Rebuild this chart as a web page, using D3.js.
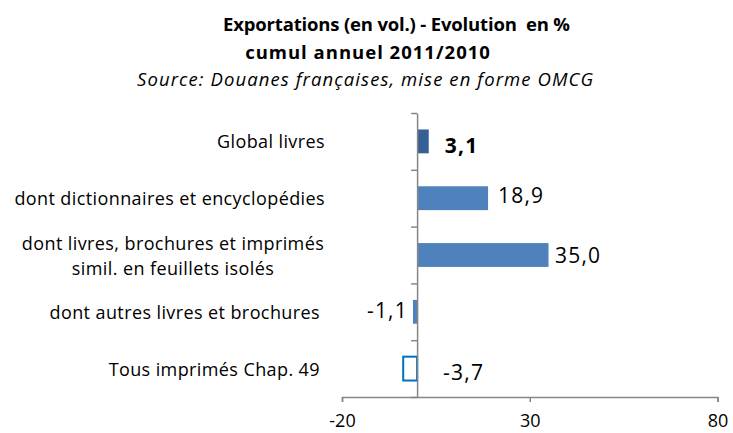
<!DOCTYPE html>
<html>
<head>
<meta charset="utf-8">
<script src="https://cdn.jsdelivr.net/npm/d3@7"></script>
<style>
  body { margin: 0; background: #fff; }
  svg { display: block; font-family: "Open Sans", Lato, sans-serif; }
  text { white-space: pre; }
</style>
</head>
<body>
<div id="chart"></div>
<script>
// categories, top to bottom (multi-line labels as arrays)
const categories = [
  ["Global livres"],
  ["dont dictionnaires et encyclopédies"],
  ["dont livres, brochures et imprimés", "simil. en feuillets isolés"],
  ["dont autres livres et brochures"],
  ["Tous imprimés Chap. 49"]
];
const values = [3.1, 18.9, 35.0, -1.1, -3.7];
const xTicks = [-20, 30, 80];
const titleLines = ["Exportations (en vol.) - Evolution  en %", "cumul annuel 2011/2010"];
const subtitle = "Source: Douanes françaises, mise en forme OMCG";

const width = 733, height = 433;
const plot = { left: 342, right: 717.5, top: 113, bottom: 397 };

const svg = d3.select('#chart').append('svg')
  .attr('width', width)
  .attr('height', height);

// title + source line
svg.append('text')
  .attr('x', 223).attr('y', 31)
  .attr('textLength', 347).attr('lengthAdjust', 'spacing')
  .style('font-weight', 'bold').style('font-size', '18.5px')
  .text(titleLines[0]);
svg.append('text')
  .attr('x', 368).attr('y', 59)
  .attr('text-anchor', 'middle')
  .style('letter-spacing', '1px')
  .style('font-weight', 'bold').style('font-size', '18.5px')
  .text(titleLines[1]);
svg.append('text')
  .attr('x', 137).attr('y', 86)
  .attr('textLength', 456).attr('lengthAdjust', 'spacing')
  .style('font-style', 'italic').style('font-size', '18.5px')
  .text(subtitle);

const idx = d3.range(categories.length);

const xScale = d3.scaleLinear()
  .domain([xTicks[0], xTicks[xTicks.length - 1]])
  .range([plot.left, plot.right]);

const yScale = d3.scaleBand()
  .domain(idx)
  .range([plot.top, plot.bottom])
  .paddingInner(0.58)
  .paddingOuter(0.29);

// boundary ticks on the category axis
const yEdge = d3.scaleLinear()
  .domain([0, categories.length])
  .range([plot.top, plot.bottom]);

const x0 = xScale(0);

// bars
svg.selectAll('rect.bar')
  .data(values)
  .enter()
  .append('rect')
  .attr('class', 'bar')
  .attr('x', d => Math.min(xScale(d), x0))
  .attr('y', (d, i) => yScale(i))
  .attr('width', d => Math.abs(xScale(d) - x0))
  .attr('height', yScale.bandwidth())
  .style('fill', (d, i) => i === 0 ? '#365f95' : (i === values.length - 1 ? '#ffffff' : '#4f81bd'))
  .style('stroke', (d, i) => i === values.length - 1 ? '#0070c0' : 'none')
  .style('stroke-width', 2);

// x axis
const xAxis = d3.axisBottom(xScale)
  .tickValues(xTicks)
  .tickSizeInner(5)
  .tickSizeOuter(5)
  .tickPadding(12)
  .tickFormat(d => String(d));

const gx = svg.append('g')
  .attr('class', 'xaxis')
  .attr('transform', `translate(0,${plot.bottom})`)
  .call(xAxis);
gx.selectAll('path, line').attr('stroke', '#868686').attr('stroke-width', 1.5);
gx.selectAll('text').style('font-size', '18px').style('fill', '#000')
  .style('font-family', '"Open Sans", sans-serif');

// y axis at zero
const yAxis = d3.axisLeft(yEdge)
  .tickValues(d3.range(categories.length + 1))
  .tickSizeInner(6)
  .tickSizeOuter(0)
  .tickFormat('');
const gy = svg.append('g')
  .attr('class', 'yaxis')
  .attr('transform', `translate(${x0},0)`)
  .call(yAxis);
gy.selectAll('path, line').attr('stroke', '#868686').attr('stroke-width', 1.5);

// category labels
const labels = svg.selectAll('text.cat')
  .data(categories)
  .enter()
  .append('text')
  .attr('class', 'cat')
  .style('font-size', '18px')
  .style('letter-spacing', '0.4px')
  .style('fill', '#000');
labels.each(function (lines, i) {
  const t = d3.select(this);
  const cy = yScale(i) + yScale.bandwidth() / 2;
  if (lines.length === 1) {
    t.attr('text-anchor', 'end')
      .attr('x', i >= 3 ? 320 : 325)
      .attr('y', cy + 7)
      .text(lines[0]);
  } else {
    t.attr('text-anchor', 'middle');
    lines.forEach((line, k) => {
      t.append('tspan')
        .attr('x', 173)
        .attr('y', cy - 5 + k * 25)
        .text(line);
    });
  }
});

// value labels (small nudges as placed in the original)
const labelDx = [16, 10, 6.5, -5, 26];
const labelDy = [11.5, 5, 8, 6.5, 11.5];
const fmt = v => d3.format('.1f')(v).replace('.', ',').replace('−', '-');
svg.selectAll('text.val')
  .data(values)
  .enter()
  .append('text')
  .attr('class', 'val')
  .attr('x', (d, i) => (i === values.length - 1 ? x0 : xScale(d)) + labelDx[i])
  .attr('y', (d, i) => yScale(i) + yScale.bandwidth() / 2 + labelDy[i])
  .attr('text-anchor', (d, i) => (d < 0 && i !== values.length - 1) ? 'end' : 'start')
  .style('font-size', '21px')
  .style('letter-spacing', '1.2px')
  .style('font-weight', (d, i) => i === 0 ? 'bold' : 'normal')
  .style('fill', '#000')
  .text(d => fmt(d));
</script>
</body>
</html>
